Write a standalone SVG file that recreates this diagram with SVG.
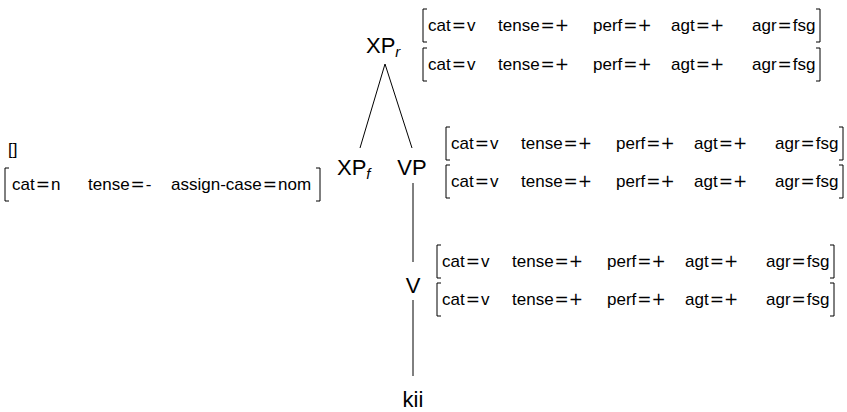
<svg xmlns="http://www.w3.org/2000/svg" width="847" height="412" viewBox="0 0 847 412">
<style>
text{font-family:"Liberation Sans","DejaVu Sans",sans-serif;fill:#000}
.lab{font-size:22px}
.sub{font-size:15px;font-style:italic}
.avm{font-size:17px}
.op{font-family:"DejaVu Sans",sans-serif}
.br{fill:none;stroke:#000;stroke-width:1}
.edge{stroke:#000;stroke-width:1;fill:none}
</style>
<defs>
<g id="row">
<path class="br" d="M4,-22 H0 V11 H4"/>
<path class="br" d="M393,-22 H397 V11 H393"/>
<text class="avm" y="0"><tspan x="5">cat</tspan><tspan class="op" dx="1">=</tspan><tspan dx="1">v</tspan><tspan x="75">tense</tspan><tspan class="op" dx="1">=</tspan><tspan class="op">+</tspan><tspan x="170">perf</tspan><tspan class="op" dx="1">=</tspan><tspan class="op">+</tspan><tspan x="248">agt</tspan><tspan class="op" dx="1">=</tspan><tspan class="op">+</tspan><tspan x="329">agr</tspan><tspan class="op" dx="1">=</tspan><tspan dx="1">fsg</tspan></text>
</g>
</defs>
<g id="connectors">
<line class="edge" x1="385" y1="64" x2="360" y2="148"/>
<line class="edge" x1="385" y1="64" x2="412" y2="148"/>
<line class="edge" x1="413" y1="183" x2="413" y2="262"/>
<line class="edge" x1="413" y1="300" x2="413" y2="376"/>
</g>
<g id="XPr">
<text class="lab" x="366" y="53">XP<tspan class="sub" dy="4">r</tspan></text>
<use href="#row" x="423" y="31"/>
<use href="#row" x="423" y="70"/>
</g>
<g id="XPf">
<text class="lab" x="337" y="175">XP<tspan class="sub" dy="4">f</tspan></text>
</g>
<g id="VP">
<text class="lab" x="412" y="175" text-anchor="middle">VP</text>
<use href="#row" x="446" y="149"/>
<use href="#row" x="446" y="187"/>
</g>
<g id="V">
<text class="lab" x="413" y="293" text-anchor="middle">V</text>
<use href="#row" x="437" y="267"/>
<use href="#row" x="437" y="305"/>
</g>
<g id="kii">
<text class="lab" x="413" y="407" text-anchor="middle">kii</text>
</g>
<g id="left">
<text class="avm" x="8" y="155">[]</text>
<path class="br" d="M9,168 H5 V201 H9"/>
<path class="br" d="M316,168 H320 V201 H316"/>
<text class="avm" y="190"><tspan x="12">cat</tspan><tspan class="op" dx="1">=</tspan><tspan dx="1">n</tspan><tspan x="88">tense</tspan><tspan class="op" dx="1">=</tspan><tspan dx="1">-</tspan><tspan x="171">assign-case</tspan><tspan class="op" dx="1">=</tspan><tspan dx="1">nom</tspan></text>
</g>
</svg>
